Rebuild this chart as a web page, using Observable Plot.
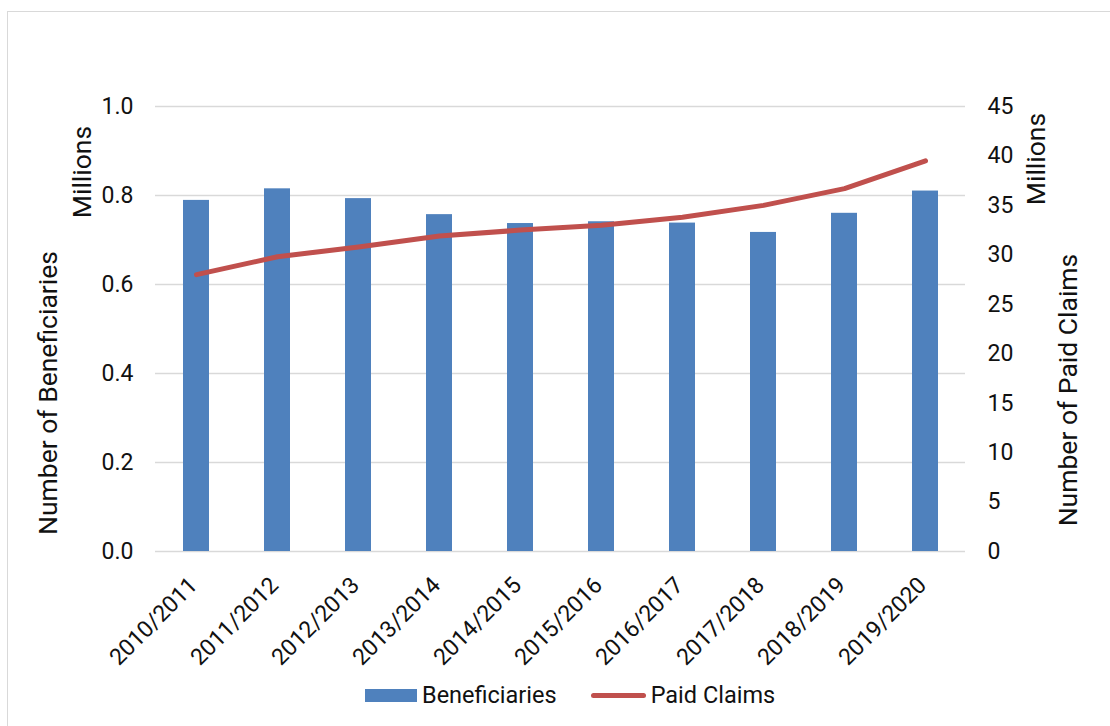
<!DOCTYPE html>
<html>
<head>
<meta charset="utf-8">
<script src="https://cdn.jsdelivr.net/npm/d3@7"></script>
<script src="https://cdn.jsdelivr.net/npm/@observablehq/plot@0.6"></script>
<style>
  html, body { margin: 0; padding: 0; background: #fff; }
  body { width: 1110px; height: 726px; position: relative; overflow: hidden; font-family: Roboto, "Noto Sans", sans-serif; }
  #frame { position: absolute; left: 7px; top: 11px; width: 1200px; height: 800px; border-left: 1.5px solid #d9d9d9; border-top: 1.5px solid #d9d9d9; box-sizing: border-box; }
  #chart { position: absolute; left: 0; top: 0; }
  #legend { position: absolute; left: 365px; top: 680px; height: 30px; display: flex; align-items: center; font-size: 23.5px; color: #111; line-height: 30px; }
  .sw-bar { width: 52px; height: 13px; background: #4F81BD; margin-right: 5px; }
  .sw-line { width: 55px; height: 5px; border-radius: 3px; background: #C0504D; margin-left: 34px; margin-right: 5px; }
</style>
</head>
<body>
<div id="frame"></div>
<div id="chart"></div>
<div id="legend"><div class="sw-bar"></div><span>Beneficiaries</span><div class="sw-line"></div><span>Paid Claims</span></div>
<script>
const years = ["2010/2011","2011/2012","2012/2013","2013/2014","2014/2015","2015/2016","2016/2017","2017/2018","2018/2019","2019/2020"];
const beneficiaries = [0.789, 0.815, 0.793, 0.757, 0.737, 0.741, 0.738, 0.717, 0.760, 0.810]; // millions
const paidClaims = [28.0, 29.8, 30.8, 31.9, 32.5, 33.0, 33.8, 35.0, 36.7, 39.5]; // millions
const leftTicks = [0, 0.2, 0.4, 0.6, 0.8, 1.0];
const rightTicks = [0, 5, 10, 15, 20, 25, 30, 35, 40, 45];
const rightMax = 45;

const data = years.map((y, i) => ({year: y, ben: beneficiaries[i], claims: paidClaims[i], claimsScaled: paidClaims[i] / rightMax}));

const W = 1110, H = 678;
const tickFont = 23;
const titleFont = 26.5;
const chart = Plot.plot({
  width: W,
  height: H,
  marginTop: 106,
  marginBottom: H - 551,
  marginLeft: 155,
  marginRight: W - 965,
  style: {fontFamily: "Roboto, 'Noto Sans', sans-serif", fontSize: tickFont + "px", color: "#111", background: "transparent"},
  x: {domain: years, paddingInner: 0.68, paddingOuter: 0.34, label: null},
  y: {domain: [0, 1], label: null},
  marks: [
    Plot.gridY(leftTicks, {stroke: "#d9d9d9", strokeOpacity: 1, strokeWidth: 1.5}),
    Plot.barY(data, {x: "year", y: "ben", fill: "#4F81BD"}),
    Plot.line(data, {x: "year", y: "claimsScaled", stroke: "#C0504D", strokeWidth: 5, strokeLinecap: "round", strokeLinejoin: "round"}),
    Plot.axisY(leftTicks, {anchor: "left", tickSize: 0, tickPadding: 22, tickFormat: d => d.toFixed(1), label: null, fontSize: tickFont}),
    Plot.axisY(rightTicks.map(v => v / rightMax), {anchor: "right", tickSize: 0, tickPadding: 22, tickFormat: d => String(Math.round(d * rightMax)), label: null, fontSize: tickFont}),
    Plot.axisX({tickSize: 0, tickPadding: 30, dx: -3, tickRotate: -45, label: null, fontSize: tickFont}),
    Plot.text(["Number of Beneficiaries"], {frameAnchor: "left", textAnchor: "middle", dx: -107, dy: 64, rotate: -90, fontSize: titleFont, fill: "#111"}),
    Plot.text(["Millions"], {frameAnchor: "left", textAnchor: "middle", dx: -73, dy: -157, rotate: -90, fontSize: titleFont, fill: "#111"}),
    Plot.text(["Millions"], {frameAnchor: "right", textAnchor: "middle", dx: 71, dy: -170, rotate: -90, fontSize: titleFont, fill: "#111"}),
    Plot.text(["Number of Paid Claims"], {frameAnchor: "right", textAnchor: "middle", dx: 103, dy: 61, rotate: -90, fontSize: titleFont, fill: "#111"})
  ]
});
document.getElementById("chart").appendChild(chart);
</script>
</body>
</html>
